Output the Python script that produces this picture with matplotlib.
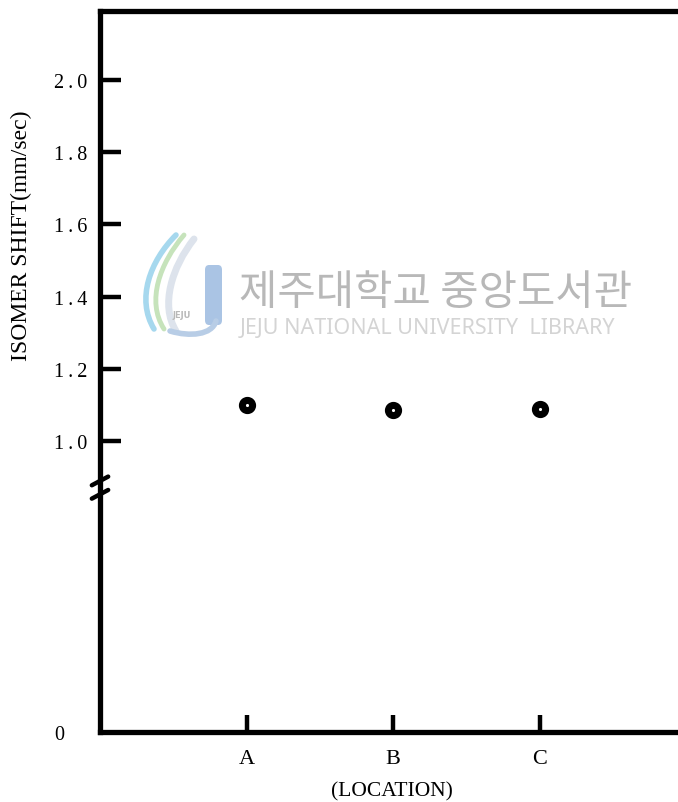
import matplotlib.pyplot as plt
from matplotlib.patches import FancyBboxPatch, PathPatch
from matplotlib.path import Path

# measured isomer shift at each location
locations = ['A', 'B', 'C']
loc_pos = [1, 2, 3]
isomer_shift = [1.10, 1.085, 1.09]

ytick_vals = [1.0, 1.2, 1.4, 1.6, 1.8, 2.0]
ytick_labels = ['1\u2009.\u20090', '1\u2009.\u20092', '1\u2009.\u20094',
                '1\u2009.\u20096', '1\u2009.\u20098', '2\u2009.\u20090']
# the axis is broken below 1.0; the bottom of the axis stands for 0
zero_pos = 0.195
break_pos = 0.865

plt.rcParams.update({
    'font.family': ['Liberation Serif', 'DejaVu Serif'],
    'font.size': 12,
})

W, H = 678, 803
fig = plt.figure(figsize=(W / 100, H / 100), dpi=100)
ax = fig.add_axes([0.1475, 0.087, 0.86, 0.898])

ax.plot(loc_pos, isomer_shift, linestyle='none', marker='o', markersize=7.4,
        markerfacecolor='white', markeredgecolor='black', markeredgewidth=5.0,
        zorder=5, clip_on=False)

ax.set_xlim(0, 3.98)
ax.set_ylim(zero_pos, 2.19)

for side in ['left', 'top', 'bottom']:
    ax.spines[side].set_linewidth(3.8)
ax.spines['right'].set_visible(False)

ax.set_yticks([zero_pos] + ytick_vals)
ax.set_yticklabels(['0'] + ytick_labels, fontsize=14.5)
ax.set_xticks(loc_pos)
ax.set_xticklabels(locations, fontsize=16)

ax.tick_params(axis='y', direction='in', length=15, width=3.2, pad=9)
ax.tick_params(axis='x', direction='in', length=12, width=3.2, pad=12)
# the zero mark has no inward tick and sits further out
zero_tick = ax.yaxis.get_major_ticks()[0]
zero_tick.tick1line.set_visible(False)
zero_tick.set_pad(26)

ax.set_ylabel('ISOMER SHIFT(mm/sec)', fontsize=17)
ax.yaxis.set_label_coords(-0.117, 0.69)
ax.set_xlabel('(LOCATION)', fontsize=15.5)
ax.xaxis.set_label_coords(0.5, -0.068)

# axis break marks
trans = ax.get_yaxis_transform()
for dy in [0.025, -0.012]:
    ax.plot([-0.014, 0.014], [break_pos + dy - 0.012, break_pos + dy + 0.012],
            color='black', linewidth=3.2, transform=trans, clip_on=False,
            solid_capstyle='round')


def px(x, y):
    return (x / W, 1 - y / H)


# library watermark
fig.text(0.353, 0.635, '제주대학교 중앙도서관', fontsize=30, color='#b8b8b8',
         family=['Noto Sans CJK KR', 'DejaVu Sans'], va='center', ha='left')
fig.text(0.354, 0.591, 'JEJU NATIONAL UNIVERSITY  LIBRARY', fontsize=15.5,
         color='#d4d4d4', family=['Noto Sans', 'DejaVu Sans'], va='center', ha='left')
fig.patches.append(FancyBboxPatch(px(205, 326), 17 / W, 60 / H,
                                  boxstyle='round,pad=0.0,rounding_size=0.006',
                                  transform=fig.transFigure, facecolor='#aac4e4',
                                  edgecolor='none'))
logo_curves = [
    ([(176, 236), (150, 262), (136, 300), (154, 330)], '#a6d8ee', 4),
    ([(184, 236), (160, 264), (146, 302), (164, 330)], '#c6e3bb', 3.5),
    ([(194, 240), (172, 268), (160, 306), (176, 332)], '#dde3ec', 5),
    ([(216, 322), (212, 336), (190, 338), (170, 332)], '#b8cde6', 4),
]
for pts, col, lw in logo_curves:
    verts = [px(x, y) for x, y in pts]
    path = Path(verts, [Path.MOVETO, Path.CURVE4, Path.CURVE4, Path.CURVE4])
    fig.patches.append(PathPatch(path, transform=fig.transFigure, facecolor='none',
                                 edgecolor=col, linewidth=lw, capstyle='round'))
fig.text(*px(182, 318), 'JEJU', fontsize=6, color='#b8b8b8', ha='center',
         family=['DejaVu Sans'], weight='bold')

fig.savefig('out.png', dpi=100)
